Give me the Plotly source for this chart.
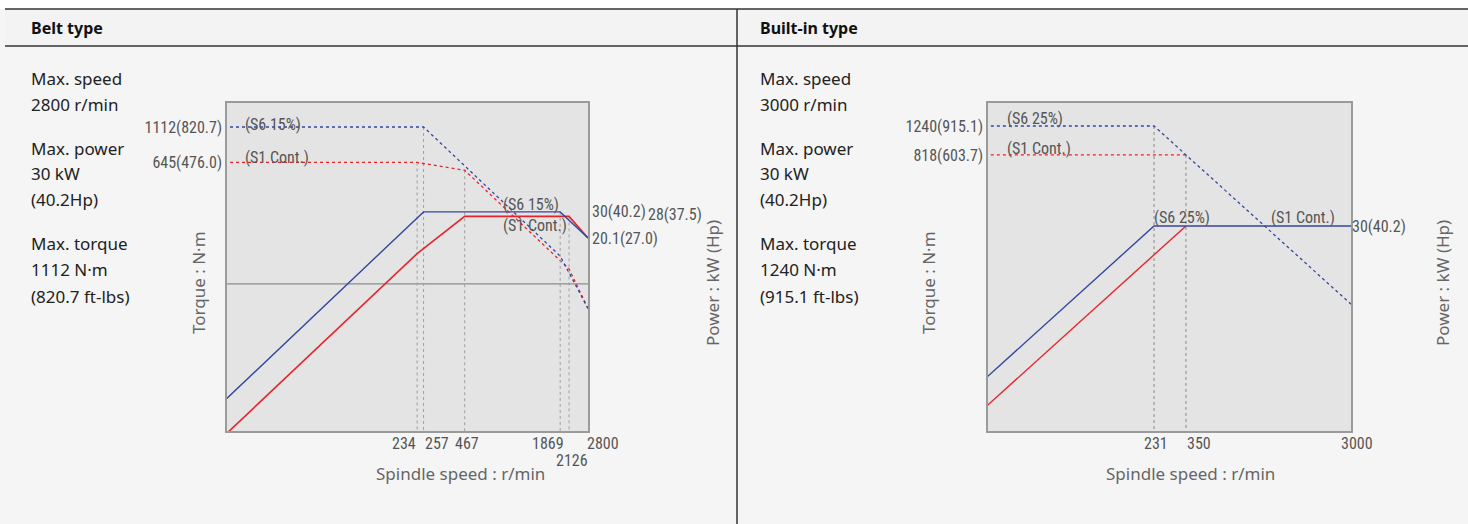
import math
import plotly.graph_objects as go

W, H = 1468, 524

# ---------------- data ----------------
# Belt type
belt_s6_torque_speed = [10, 257, 1869, 2800]
belt_s6_torque = [1112, 1112, 153.3, 68.5]
belt_s1_torque_speed = [10, 234, 467, 2126, 2800]
belt_s1_torque = [645, 645, 572.5, 125.8, 68.5]
belt_s6_power_speed = [10, 257, 1869, 2800]
belt_s6_power = [1.16, 30, 30, 20.1]
belt_s1_power_speed = [10, 234, 467, 2126, 2800]
belt_s1_power = [0.68, 15.8, 28, 28, 20.1]
belt_x_ticks = [234, 257, 467, 1869, 2126, 2800]
belt_x_ticktext = ["234", "257", "467", "1869", "2126", "2800"]
belt_torque_ticks = [645, 1112]
belt_torque_ticktext = ["645(476.0)", "1112(820.7)"]
belt_power_ticks = [20.1, 30]
belt_power_ticktext = ["20.1(27.0)", "30(40.2)"]
belt_guides_torque = [(234, 645), (257, 1112), (467, 572.5)]
belt_guides_power = [(1869, 30), (2126, 28)]
belt_grid_torque = 100

# Built-in type
bi_s6_torque_speed = [10, 231, 3000]
bi_s6_torque = [1240, 1240, 95.5]
bi_s1_torque_speed = [10, 350]
bi_s1_torque = [818, 818]
bi_s6_power_speed = [10, 231, 3000]
bi_s6_power = [1.3, 30, 30]
bi_s1_power_speed = [10, 350]
bi_s1_power = [0.86, 30]
bi_x_ticks = [231, 350, 3000]
bi_x_ticktext = ["231", "350", "3000"]
bi_torque_ticks = [818, 1240]
bi_torque_ticktext = ["818(603.7)", "1240(915.1)"]
bi_power_ticks = [30]
bi_power_ticktext = ["30(40.2)"]
bi_guides_torque = [(231, 1240), (350, 818)]

belt_info = ["Max. speed", "2800 r/min", "Max. power", "30 kW", "(40.2Hp)",
             "Max. torque", "1112 N·m", "(820.7 ft-lbs)"]
bi_info = ["Max. speed", "3000 r/min", "Max. power", "30 kW", "(40.2Hp)",
           "Max. torque", "1240 N·m", "(915.1 ft-lbs)"]

# ---------------- style ----------------
BLUE = "#34479f"
RED = "#e8232b"
GUIDE = "#a0a0a0"
NARROW = "Liberation Sans Narrow, Roboto Condensed, Roboto, sans-serif"
TICKFONT = dict(family=NARROW, size=16, color="#555555")
LABFONT = dict(family=NARROW, size=16, color="#555555")
TITLEFONT = dict(family="Noto Sans, sans-serif", size=17, color="#666666")
INFOFONT = dict(family="Noto Sans, sans-serif", size=17, color="#222222")
HEADFONT = dict(family="Noto Sans, sans-serif", size=16, color="#111111")


def px(x):
    return x / W


def py(y):
    return 1 - y / H


fig = go.Figure()


def add_line(xs, ys, color, dash, xa, ya, width=1.3):
    fig.add_trace(go.Scatter(x=xs, y=ys, mode="lines", xaxis=xa, yaxis=ya,
                             line=dict(color=color, width=width, dash=dash),
                             hoverinfo="skip", showlegend=False))


# Belt panel: x / y (torque) / y2 (power)
add_line([10, 10000], [belt_grid_torque, belt_grid_torque], "#8c8c8c", "solid", "x", "y", 1.2)
for s, t in belt_guides_torque:
    add_line([s, s], [t, 1], GUIDE, "dot", "x", "y", 1)
for s, p in belt_guides_power:
    add_line([s, s], [p, 0.1], GUIDE, "dot", "x", "y2", 1)
add_line(belt_s1_torque_speed, belt_s1_torque, RED, "dot", "x", "y", 1.3)
add_line(belt_s6_torque_speed, belt_s6_torque, BLUE, "dot", "x", "y", 1.3)
add_line(belt_s1_power_speed, belt_s1_power, RED, "solid", "x", "y2", 1.6)
add_line(belt_s6_power_speed, belt_s6_power, BLUE, "solid", "x", "y2", 1.4)

# Built-in panel: x2 / y3 (torque) / y4 (power)
for s, t in bi_guides_torque:
    add_line([s, s], [t, 1], "#888888", "dot", "x2", "y3", 1)
add_line(bi_s1_torque_speed, bi_s1_torque, RED, "dot", "x2", "y3", 1.3)
add_line(bi_s6_torque_speed, bi_s6_torque, BLUE, "dot", "x2", "y3", 1.3)
add_line(bi_s1_power_speed, bi_s1_power, RED, "solid", "x2", "y4", 1.4)
add_line(bi_s6_power_speed, bi_s6_power, BLUE, "solid", "x2", "y4", 1.4)

ydom = [py(431), py(103)]
L = math.log10

axis_common = dict(type="log", showgrid=False, zeroline=False, ticks="",
                   tickfont=TICKFONT, showline=True, linecolor="#9a9a9a", linewidth=1.5)

fig.update_layout(
    width=W, height=H, autosize=False,
    margin=dict(l=0, r=0, t=0, b=0),
    paper_bgcolor="#f5f5f5",
    plot_bgcolor="#e4e4e4",
    showlegend=False,
    xaxis=dict(axis_common, domain=[px(227), px(588)], anchor="y",
               range=[L(14.8), L(2800)], showticklabels=False, mirror=True),
    yaxis=dict(axis_common, domain=ydom, anchor="x",
               range=[L(10.45), L(1607)], tickvals=belt_torque_ticks, ticktext=belt_torque_ticktext,
               mirror=True),
    yaxis2=dict(axis_common, domain=ydom, anchor="x", overlaying="y", side="right",
                range=[L(1.04), L(159.4)], tickvals=belt_power_ticks, ticktext=belt_power_ticktext,
                showline=False, ticklabelstandoff=3),
    xaxis2=dict(axis_common, domain=[px(988), px(1351)], anchor="y3",
                range=[L(26.6), L(3000)], showticklabels=False, mirror=True),
    yaxis3=dict(axis_common, domain=ydom, anchor="x2",
                range=[L(15.4), L(1727)], tickvals=bi_torque_ticks, ticktext=bi_torque_ticktext,
                mirror=True),
    yaxis4=dict(axis_common, domain=ydom, anchor="x2", overlaying="y3", side="right",
                range=[L(1.57), L(176)], tickvals=bi_power_ticks, ticktext=bi_power_ticktext,
                showline=False),
)

shapes = [
    dict(type="rect", xref="paper", yref="paper", x0=0, x1=1, y0=py(9), y1=1,
         fillcolor="#ffffff", line=dict(width=0), layer="below"),
    dict(type="rect", xref="paper", yref="paper", x0=px(5), x1=1, y0=py(46), y1=py(9),
         fillcolor="#f3f3f3", line=dict(width=0), layer="below"),
    dict(type="line", xref="paper", yref="paper", x0=px(5), x1=1, y0=py(9), y1=py(9),
         line=dict(color="#333333", width=1.5)),
    dict(type="line", xref="paper", yref="paper", x0=px(5), x1=1, y0=py(46), y1=py(46),
         line=dict(color="#333333", width=1.5)),
    dict(type="line", xref="paper", yref="paper", x0=px(737), x1=px(737), y0=0, y1=py(9),
         line=dict(color="#333333", width=1.5)),
]
fig.update_layout(shapes=shapes)

ann = []


def text(x, y, s, font, xanchor="left", yanchor="middle", angle=0):
    if xanchor == "left":
        x -= 2
    ann.append(dict(x=px(x), y=py(y), xref="paper", yref="paper", text=s, showarrow=False,
                    xanchor=xanchor, yanchor=yanchor, font=font, textangle=angle))


text(31, 28, "<b>Belt type</b>", HEADFONT)
text(760, 28, "<b>Built-in type</b>", HEADFONT)

info_y = [79, 105, 148, 174, 200, 243, 269, 296]
for yy, s in zip(info_y, belt_info):
    text(31, yy, s, INFOFONT)
for yy, s in zip(info_y, bi_info):
    text(760, yy, s, INFOFONT)

# axis titles
text(198, 283, "Torque : N·m", TITLEFONT, xanchor="center", angle=-90)
text(712, 283, "Power : kW (Hp)", TITLEFONT, xanchor="center", angle=-90)
text(460, 473, "Spindle speed : r/min", TITLEFONT, xanchor="center")
text(928, 283, "Torque : N·m", TITLEFONT, xanchor="center", angle=-90)
text(1442, 283, "Power : kW (Hp)", TITLEFONT, xanchor="center", angle=-90)
text(1190, 473, "Spindle speed : r/min", TITLEFONT, xanchor="center")

# x tick labels placed on the log speed axes
belt_tick_place = [("right", 1, 443), ("left", -1, 443), ("center", 2, 443),
                   ("right", 6, 443), ("center", 3, 460), ("left", -3, 443)]
for v, s, (anc, sh, yy) in zip(belt_x_ticks, belt_x_ticktext, belt_tick_place):
    ann.append(dict(x=L(v), xref="x", y=py(yy), yref="paper", text=s, showarrow=False,
                    xanchor=anc, xshift=sh, yanchor="middle", font=TICKFONT))
bi_tick_place = [("center", 2, 443), ("left", -1, 443), ("center", 6, 443)]
for v, s, (anc, sh, yy) in zip(bi_x_ticks, bi_x_ticktext, bi_tick_place):
    ann.append(dict(x=L(v), xref="x2", y=py(yy), yref="paper", text=s, showarrow=False,
                    xanchor=anc, xshift=sh, yanchor="middle", font=TICKFONT))

# curve labels
text(245, 124, "(S6 15%)", LABFONT)
text(245, 157, "(S1 Cont.)", LABFONT)
text(503, 204, "(S6 15%)", LABFONT)
text(503, 225, "(S1 Cont.)", LABFONT)
text(648, 214, "28(37.5)", TICKFONT)
text(1007, 118, "(S6 25%)", LABFONT)
text(1007, 148, "(S1 Cont.)", LABFONT)
text(1154, 218, "(S6 25%)", LABFONT)
text(1271, 218, "(S1 Cont.)", LABFONT)

fig.update_layout(annotations=ann)

fig.write_html(
    "out.html",
    config={"displayModeBar": False, "responsive": False},
    post_script=("document.body.style.margin='0';document.body.style.overflow='hidden';"
                 "Plotly.relayout('{plot_id}', {width: 1468, height: 524});"),
)
